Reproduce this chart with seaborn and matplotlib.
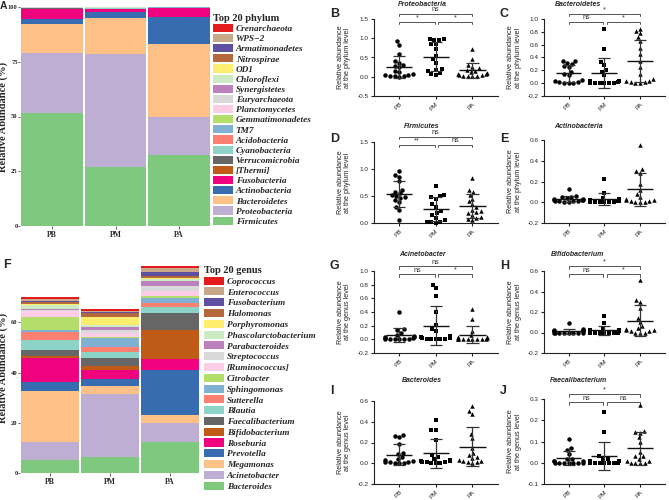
import numpy as np
import pandas as pd
import seaborn as sns
import matplotlib.pyplot as plt
from matplotlib.patches import Patch

groups = ["PB", "PM", "PA"]
markers = ["o", "s", "^"]

# stacked composition, listed from the top of the stack down (legend order)
phyla = ["Crenarchaeota", "WPS\u22122", "Armatimonadetes", "Nitrospirae", "OD1",
         "Chloroflexi", "Synergistetes", "Euryarchaeota", "Planctomycetes",
         "Gemmatimonadetes", "TM7", "Acidobacteria", "Cyanobacteria",
         "Verrucomicrobia", "[Thermi]", "Fusobacteria", "Actinobacteria",
         "Bacteroidetes", "Proteobacteria", "Firmicutes"]
phylum_pb = [0.02, 0.02, 0.02, 0.03, 0.03, 0.05, 0.05, 0.05, 0.05, 0.06, 0.08,
             0.10, 0.12, 0.15, 0.17, 4.4, 2.3, 13.4, 27.4, 51.5]
phylum_pm = [0.10, 0.02, 0.02, 0.03, 0.03, 0.05, 0.05, 0.05, 0.05, 0.05, 0.10,
             0.10, 0.10, 0.10, 0.05, 1.5, 2.7, 16.3, 51.5, 27.1]
phylum_pa = [0.02, 0.01, 0.01, 0.02, 0.02, 0.02, 0.03, 0.03, 0.03, 0.03, 0.05,
             0.05, 0.05, 0.08, 0.05, 4.0, 12.2, 33.3, 17.5, 32.5]

genera = ["Coprococcus", "Enterococcus", "Fusobacterium", "Halomonas",
          "Porphyromonas", "Phascolarctobacterium", "Parabacteroides",
          "Streptococcus", "[Ruminococcus]", "Citrobacter", "Sphingomonas",
          "Sutterella", "Blautia", "Faecalibacterium", "Bifidobacterium",
          "Roseburia", "Prevotella", "Megamonas", "Acinetobacter", "Bacteroides"]
genus_pb = [0.7, 0.7, 0.7, 0.5, 0.4, 1.6, 0.4, 0.7, 2.0, 5.3, 0.7, 3.3, 4.0,
            2.4, 0.9, 9.3, 3.7, 20.4, 7.0, 5.3]
genus_pm = [0.5, 0.4, 0.4, 1.6, 3.3, 0.7, 1.3, 1.3, 1.3, 0.7, 3.6, 1.7, 2.6,
            3.3, 1.3, 3.7, 2.9, 2.9, 25.2, 6.4]
genus_pa = [1.0, 1.5, 1.6, 0.8, 0.3, 0.8, 1.9, 2.1, 1.9, 1.0, 2.0, 1.6, 2.4,
            6.6, 11.5, 4.4, 18.1, 3.0, 7.7, 12.3]

palette = ["#E41A1C", "#C9A88A", "#5E4FA2", "#B3693B", "#FFED6F", "#CCEBC5",
           "#BC80BD", "#D9D9D9", "#FCCDE5", "#B3DE69", "#80B1D3", "#FB8072",
           "#8DD3C7", "#666666", "#BF5B17", "#F0027F", "#386CB0", "#FDC086",
           "#BEAED4", "#7FC97F"]

# per-sample relative abundance, dot plots
proteo_pb = [0.92, 0.82, 0.60, 0.42, 0.37, 0.30, 0.28, 0.25, 0.16, 0.12, 0.08, 0.05, 0.04, 0.02, 0.01, 0.01, 0.0]
proteo_pm = [0.98, 0.97, 0.96, 0.95, 0.86, 0.84, 0.72, 0.55, 0.45, 0.35, 0.20, 0.17, 0.15, 0.10, 0.07, 0.05]
proteo_pa = [0.72, 0.47, 0.30, 0.25, 0.22, 0.18, 0.15, 0.12, 0.10, 0.08, 0.06, 0.05, 0.04, 0.03, 0.02, 0.02, 0.01]

bacteroidetes_pb = [0.35, 0.34, 0.32, 0.30, 0.27, 0.25, 0.18, 0.15, 0.12, 0.05, 0.03, 0.02, 0.02, 0.01, 0.01, 0.0]
bacteroidetes_pm = [0.85, 0.53, 0.33, 0.28, 0.20, 0.18, 0.12, 0.04, 0.03, 0.02, 0.02, 0.01, 0.01, 0.01, 0.0, 0.0, 0.0]
bacteroidetes_pa = [0.85, 0.82, 0.78, 0.72, 0.66, 0.55, 0.45, 0.35, 0.25, 0.15, 0.06, 0.04, 0.03, 0.02, 0.02, 0.01, 0.01]

firmicutes_pb = [0.97, 0.89, 0.86, 0.77, 0.62, 0.58, 0.55, 0.52, 0.50, 0.48, 0.46, 0.42, 0.38, 0.30, 0.25, 0.06]
firmicutes_pm = [0.68, 0.52, 0.50, 0.48, 0.45, 0.35, 0.30, 0.22, 0.18, 0.15, 0.10, 0.05, 0.02, 0.01, 0.01, 0.0]
firmicutes_pa = [0.83, 0.62, 0.58, 0.52, 0.45, 0.40, 0.35, 0.30, 0.25, 0.22, 0.20, 0.18, 0.15, 0.12, 0.10, 0.08, 0.05]

actino_pb = [0.13, 0.06, 0.05, 0.05, 0.04, 0.03, 0.03, 0.02, 0.02, 0.02, 0.01, 0.01, 0.01, 0.01, 0.0, 0.0]
actino_pm = [0.22, 0.09, 0.04, 0.03, 0.02, 0.02, 0.01, 0.01, 0.01, 0.01, 0.0, 0.0, 0.0, 0.0, 0.0, 0.0]
actino_pa = [0.55, 0.32, 0.30, 0.28, 0.18, 0.12, 0.08, 0.05, 0.03, 0.02, 0.02, 0.01, 0.01, 0.0, 0.0, 0.0]

acineto_pb = [0.40, 0.15, 0.13, 0.10, 0.06, 0.05, 0.04, 0.03, 0.02, 0.02, 0.01, 0.01, 0.01, 0.0, 0.0, 0.0]
acineto_pm = [0.80, 0.75, 0.64, 0.40, 0.21, 0.15, 0.12, 0.05, 0.03, 0.02, 0.02, 0.01, 0.01, 0.01, 0.0, 0.0]
acineto_pa = [0.44, 0.30, 0.12, 0.06, 0.04, 0.03, 0.02, 0.02, 0.01, 0.01, 0.01, 0.0, 0.0, 0.0, 0.0, 0.0]

bifido_pb = [0.09, 0.03, 0.02, 0.02, 0.01, 0.01, 0.01, 0.01, 0.0, 0.0, 0.0, 0.0, 0.0, 0.0, 0.0, 0.0]
bifido_pm = [0.16, 0.09, 0.04, 0.02, 0.02, 0.01, 0.01, 0.01, 0.0, 0.0, 0.0, 0.0, 0.0, 0.0, 0.0, 0.0]
bifido_pa = [0.51, 0.32, 0.30, 0.24, 0.14, 0.10, 0.06, 0.04, 0.03, 0.02, 0.02, 0.01, 0.01, 0.0, 0.0, 0.0]

bacteroides_pb = [0.27, 0.26, 0.25, 0.19, 0.10, 0.09, 0.06, 0.04, 0.03, 0.02, 0.01, 0.01, 0.01, 0.0, 0.0, 0.0]
bacteroides_pm = [0.42, 0.32, 0.32, 0.22, 0.08, 0.06, 0.04, 0.03, 0.02, 0.02, 0.01, 0.01, 0.01, 0.0, 0.0, 0.0]
bacteroides_pa = [0.55, 0.50, 0.47, 0.28, 0.24, 0.15, 0.10, 0.08, 0.06, 0.05, 0.03, 0.02, 0.02, 0.01, 0.01, 0.0]

faecali_pb = [0.11, 0.07, 0.06, 0.04, 0.02, 0.02, 0.01, 0.01, 0.01, 0.0, 0.0, 0.0, 0.0, 0.0, 0.0, 0.0]
faecali_pm = [0.24, 0.145, 0.03, 0.02, 0.02, 0.01, 0.01, 0.01, 0.0, 0.0, 0.0, 0.0, 0.0, 0.0, 0.0, 0.0]
faecali_pa = [0.27, 0.15, 0.145, 0.14, 0.12, 0.10, 0.05, 0.03, 0.03, 0.02, 0.01, 0.01, 0.0, 0.0, 0.0, 0.0]

sns.set_style("ticks")
plt.rcParams["font.family"] = ["Liberation Sans", "DejaVu Sans"]

W, H = 669, 500
fig = plt.figure(figsize=(W / 100, H / 100), dpi=100)


def px_axes(left, top, right, bottom):
    return fig.add_axes([left / W, 1 - bottom / H, (right - left) / W, (bottom - top) / H])


serif = dict(family="Liberation Serif", weight="bold")


def stacked(ax, taxa, values, title, ymax, yticks, leg_xy, spacing):
    df = pd.DataFrame({"group": np.repeat(groups, len(taxa)),
                       "taxon": taxa * len(groups),
                       "pct": np.concatenate(values)})
    sns.histplot(data=df, x="group", hue="taxon", weights="pct", multiple="stack",
                 discrete=True, shrink=0.97, hue_order=taxa, palette=palette,
                 alpha=1, linewidth=0, legend=False, ax=ax)
    ax.set_xlim(-0.5, 2.5)
    ax.set_ylim(0, ymax)
    ax.set_xticks(range(3), groups, fontsize=5.5, **serif)
    ax.set_yticks(yticks, [str(t) for t in yticks], fontsize=4.7, **serif)
    ax.tick_params(length=1.3, width=0.6, color="#444", pad=0.4)
    ax.tick_params(axis="x", length=1.8, pad=2)
    for s in ax.spines.values():
        s.set_visible(False)
    ax.set_xlabel("")
    ax.set_ylabel("Relative Abundance (%)", fontsize=7.6, **serif)
    bb = ax.get_position()
    ax.yaxis.set_label_coords(-(bb.x0 * W - 8.5) / (bb.width * W), 0.5)
    handles = [Patch(facecolor=c, edgecolor="none", label=t) for t, c in zip(taxa, palette)]
    ax.legend(handles=handles, title=title, loc="upper left",
              bbox_to_anchor=(leg_xy[0] / W, 1 - leg_xy[1] / H),
              bbox_transform=fig.transFigure, frameon=False, borderpad=0,
              borderaxespad=0, handlelength=2.15, handleheight=0.95,
              handletextpad=0.3, labelspacing=spacing, alignment="left",
              prop=dict(family="Liberation Serif", weight="bold", style="italic", size=6.7),
              title_fontproperties=dict(family="Liberation Serif", weight="bold", size=7.5))


title_y = {"Proteobacteria": 4, "Bacteroidetes": 4, "Firmicutes": 127,
           "Actinobacteria": 127, "Acinetobacter": 255, "Bifidobacterium": 255,
           "Bacteroides": 381, "Faecalibacterium": 381}


def dotplot(ax, vals, title, level, ylim, yticks, brackets, title_x):
    df = pd.DataFrame({"group": np.repeat(groups, [len(v) for v in vals]),
                       "value": np.concatenate(vals)})
    for g, m in zip(groups, markers):
        sns.swarmplot(data=df[df["group"] == g], x="group", y="value", order=groups,
                      marker=m, color="black", size=3.2, linewidth=0, ax=ax,
                      warn_thresh=1)
    for c in ax.collections:
        c.set_clip_on(False)
    stats = df.groupby("group")["value"].agg(["mean", "std"]).reindex(groups)
    for i, (mu, sd) in enumerate(zip(stats["mean"], stats["std"])):
        ax.hlines(mu, i - 0.36, i + 0.36, color="#111", lw=1.0, zorder=4)
        ax.vlines(i, mu - sd, mu + sd, color="#333", lw=0.9, zorder=4)
        ax.hlines([mu - sd, mu + sd], i - 0.17, i + 0.17, color="#333", lw=0.9, zorder=4)
    ax.set_xlim(-0.69, 2.7)
    ax.set_ylim(*ylim)
    ax.set_yticks(yticks, [f"{t:.1f}" for t in yticks], fontsize=4.6)
    ax.set_xticks(range(3), groups, fontsize=4.6, rotation=45, ha="right",
                  rotation_mode="anchor")
    ax.tick_params(length=2.5, width=0.8, color="#222", pad=1.5)
    sns.despine(ax=ax)
    for s in ("left", "bottom"):
        ax.spines[s].set_linewidth(0.8)
        ax.spines[s].set_color("#222")
    ax.set_xlabel("")
    ax.set_ylabel(f"Relative abundance\nat the {level} level", fontsize=5.2,
                  linespacing=1.1)
    ax.yaxis.set_label_coords(-0.185, 0.5)
    hpx = ax.get_position().height * H
    trans = ax.get_xaxis_transform()
    for x0, x1, label, up in brackets:
        y = 1 + 5 / hpx if up else 1 - 3 / hpx
        tick = 2.5 / hpx
        ax.plot([x0, x0, x1, x1], [y - tick, y, y, y - tick], color="#555", lw=0.7,
                transform=trans, clip_on=False)
        ax.text((x0 + x1) / 2, y + 0.5 / hpx, label, ha="center", va="bottom",
                fontsize=5.2, color="#333", transform=trans)
    fig.text(title_x / W, 1 - title_y[title] / H, title,
             ha="center", va="center", fontsize=5, style="italic", weight="bold")


ax_a = px_axes(20, 7, 211, 226)
stacked(ax_a, phyla, [phylum_pb, phylum_pm, phylum_pa], "Top 20 phylum", 100,
        [0, 25, 50, 75, 100], (213, 14), 0.1)

ax_f = px_axes(20, 262, 200, 473)
stacked(ax_f, genera, [genus_pb, genus_pm, genus_pa], "Top 20 genus", 84,
        [0, 20, 40, 60], (204, 266), 0.17)

dotplot(px_axes(374, 19, 498, 96), [proteo_pb, proteo_pm, proteo_pa], "Proteobacteria",
        "phylum", (-0.5, 1.5), [-0.5, 0.0, 0.5, 1.0, 1.5],
        [(0, 2, "ns", True), (0, 0.97, "*", False), (1.07, 2, "*", False)], 422)
dotplot(px_axes(544, 19, 665, 96), [bacteroidetes_pb, bacteroidetes_pm, bacteroidetes_pa],
        "Bacteroidetes", "phylum", (-0.2, 1.0), [-0.2, 0.0, 0.2, 0.4, 0.6, 0.8, 1.0],
        [(0, 2, "*", True), (0, 0.97, "ns", False), (1.07, 2, "*", False)], 578)
dotplot(px_axes(374, 142, 498, 223), [firmicutes_pb, firmicutes_pm, firmicutes_pa],
        "Firmicutes", "phylum", (0, 1.5), [0.0, 0.5, 1.0, 1.5],
        [(0, 2, "ns", True), (0, 0.97, "**", False), (1.07, 2, "ns", False)], 422)
dotplot(px_axes(544, 140, 665, 223), [actino_pb, actino_pm, actino_pa],
        "Actinobacteria", "phylum", (-0.2, 0.6), [-0.2, 0.0, 0.2, 0.4, 0.6], [], 578)
dotplot(px_axes(374, 271, 498, 353), [acineto_pb, acineto_pm, acineto_pa],
        "Acinetobacter", "genus", (-0.2, 1.0), [-0.2, 0.0, 0.2, 0.4, 0.6, 0.8, 1.0],
        [(0, 2, "ns", True), (0, 0.97, "ns", False), (1.07, 2, "*", False)], 422)
dotplot(px_axes(544, 271, 665, 353), [bifido_pb, bifido_pm, bifido_pa],
        "Bifidobacterium", "genus", (-0.2, 0.6), [-0.2, 0.0, 0.2, 0.4, 0.6],
        [(0, 2, "*", True), (0, 0.97, "ns", False), (1.07, 2, "*", False)], 578)
dotplot(px_axes(374, 401, 498, 484), [bacteroides_pb, bacteroides_pm, bacteroides_pa],
        "Bacteroides", "genus", (-0.2, 0.6), [-0.2, 0.0, 0.2, 0.4, 0.6], [], 422)
dotplot(px_axes(544, 399, 665, 484), [faecali_pb, faecali_pm, faecali_pa],
        "Faecalibacterium", "genus", (-0.1, 0.3), [-0.1, 0.0, 0.1, 0.2, 0.3],
        [(0, 2, "*", True), (0, 0.97, "ns", False), (1.07, 2, "ns", False)], 578)

for letter, x, y, fs in [("A", 0, 1, 7.5), ("F", 3, 259, 9), ("B", 330, 8, 9),
                         ("C", 500, 8, 9), ("D", 330, 133, 9), ("E", 500, 133, 9),
                         ("G", 330, 260, 9), ("H", 500, 260, 9), ("I", 330, 385, 9),
                         ("J", 500, 385, 9)]:
    fig.text(x / W, 1 - y / H, letter, fontsize=fs, weight="bold", va="top", ha="left")

fig.savefig("out.png", dpi=100)
